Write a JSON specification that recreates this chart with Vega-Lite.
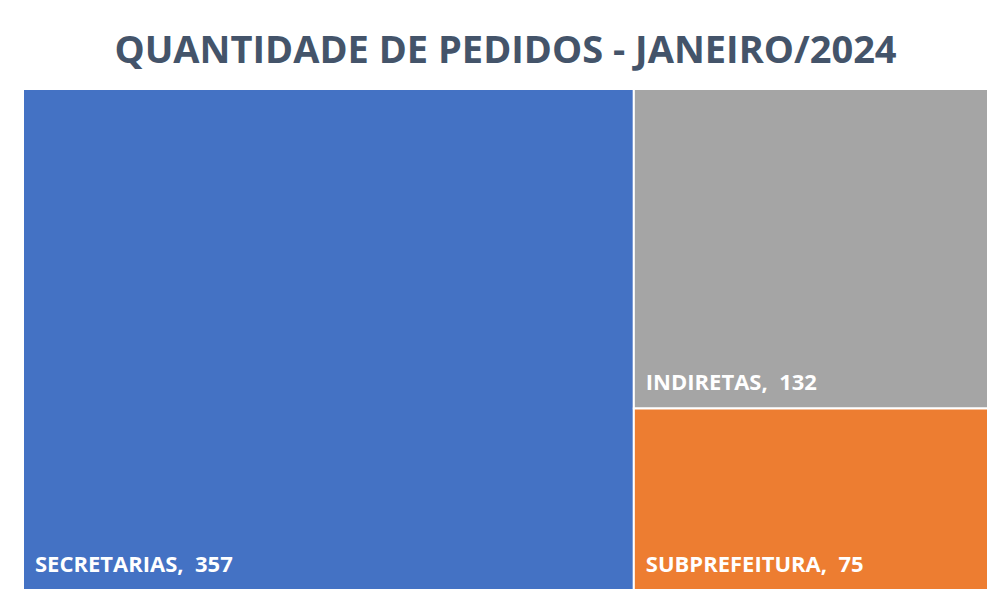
{
  "$schema": "https://vega.github.io/schema/vega-lite/v6.json",
  "width": 965,
  "height": 501,
  "autosize": {"type": "none"},
  "padding": {"left": 23, "top": 89, "right": 2, "bottom": 9},
  "background": "white",
  "config": {"view": {"stroke": null}},
  "title": {
    "text": "QUANTIDADE DE PEDIDOS - JANEIRO/2024",
    "font": "Open Sans",
    "fontSize": 38,
    "fontWeight": "bold",
    "color": "#44546A",
    "anchor": "middle",
    "offset": 17
  },
  "data": {
    "values": [
      {"categoria": "SECRETARIAS", "pedidos": 357, "grupo": "A", "rotulo": "SECRETARIAS,\u00a0\u00a0357"},
      {"categoria": "INDIRETAS", "pedidos": 132, "grupo": "B", "rotulo": "INDIRETAS,\u00a0\u00a0132"},
      {"categoria": "SUBPREFEITURA", "pedidos": 75, "grupo": "B", "rotulo": "SUBPREFEITURA,\u00a0\u00a075"}
    ]
  },
  "transform": [
    {"stack": "pedidos", "groupby": [], "sort": [{"field": "grupo", "order": "ascending"}], "as": ["sx0", "sx1"]},
    {"joinaggregate": [{"op": "min", "field": "sx0", "as": "gx0"}, {"op": "max", "field": "sx1", "as": "gx1"}], "groupby": ["grupo"]},
    {"stack": "pedidos", "groupby": ["grupo"], "sort": [{"field": "categoria", "order": "ascending"}], "offset": "normalize", "as": ["y0", "y1"]}
  ],
  "encoding": {
    "x": {"field": "gx0", "type": "quantitative", "scale": {"nice": false, "zero": true}, "axis": null},
    "y": {"field": "y1", "type": "quantitative", "scale": {"domain": [0, 1], "reverse": true, "nice": false}, "axis": null}
  },
  "layer": [
    {
      "mark": {"type": "rect", "stroke": "white", "strokeWidth": 2},
      "encoding": {
        "x2": {"field": "gx1"},
        "y": {"field": "y0", "type": "quantitative", "scale": {"domain": [0, 1], "reverse": true, "nice": false}, "axis": null},
        "y2": {"field": "y1"},
        "color": {
          "field": "categoria",
          "type": "nominal",
          "scale": {"domain": ["SECRETARIAS", "INDIRETAS", "SUBPREFEITURA"], "range": ["#4472C4", "#A5A5A5", "#ED7D31"]},
          "legend": null
        }
      }
    },
    {
      "mark": {"type": "text", "align": "left", "baseline": "alphabetic", "dx": 12, "dy": -18, "font": "Open Sans", "fontSize": 22, "fontWeight": "bold", "color": "white"},
      "encoding": {
        "text": {"field": "rotulo", "type": "nominal"}
      }
    }
  ]
}
